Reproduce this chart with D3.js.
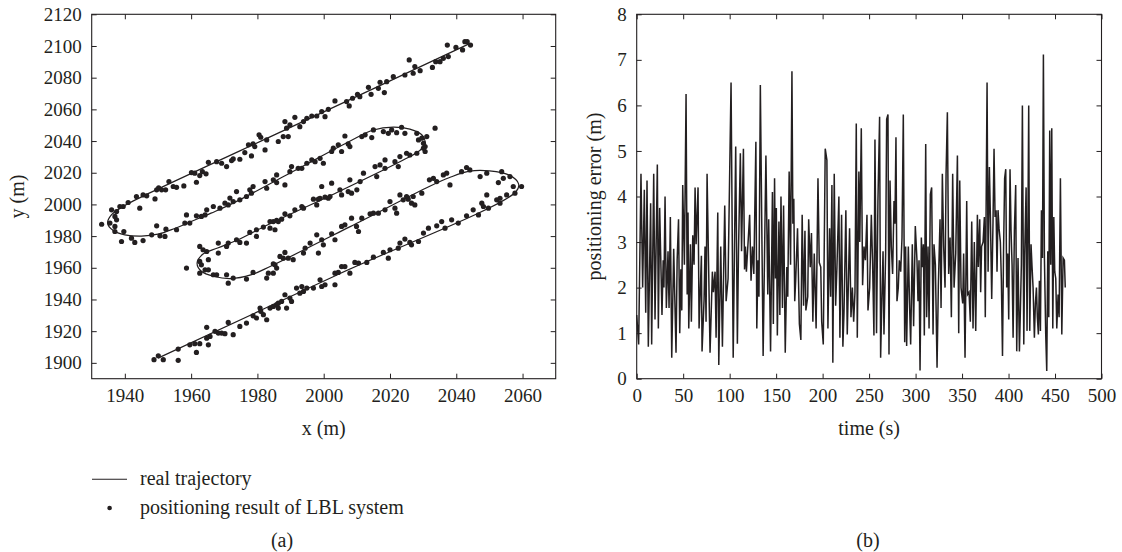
<!DOCTYPE html>
<html>
<head>
<meta charset="utf-8">
<script src="https://cdn.jsdelivr.net/npm/d3@7"></script>
<style>
  html, body { margin: 0; padding: 0; background: #fff; }
  svg { display: block; }
  svg text { font-family: "Liberation Serif", "Times New Roman", serif; }
</style>
</head>
<body>
<svg id="fig" width="1122" height="552"></svg>
<script>
// ---------- panel (a): trajectory ----------
const trackXTicks = [1940, 1960, 1980, 2000, 2020, 2040, 2060];
const trackYTicks = [1900, 1920, 1940, 1960, 1980, 2000, 2020, 2040, 2060, 2080, 2100, 2120];

// real trajectory, in path order (x, y in m)
const realTrack = [
  [1950.0,1903.0],[2004.0,1955.5],[2058.0,2008.0],[2058.8,2013.0],[2056.0,2018.5],[2050.0,2021.2],
  [2044.0,2021.0],[2038.0,2017.0],[2032.0,2011.5],[2008.0,1986.0],[1984.0,1961.0],[1978.0,1955.5],
  [1972.0,1953.2],[1967.0,1954.5],[1963.0,1958.0],[1961.8,1963.0],[1963.5,1968.5],[1968.0,1972.5],
  [1974.0,1977.5],[1983.0,1987.0],[2004.0,2007.5],[2024.0,2028.0],[2029.0,2034.0],[2030.6,2038.5],
  [2029.8,2043.5],[2026.0,2047.5],[2021.0,2048.8],[2015.0,2047.0],[2008.0,2040.0],[1990.0,2020.0],
  [1972.7,2000.8],[1966.0,1994.5],[1960.0,1989.2],[1955.0,1984.8],[1950.0,1981.2],[1945.0,1980.0],
  [1940.0,1980.8],[1936.5,1983.5],[1934.8,1988.0],[1936.0,1993.5],[1940.0,1999.3],[1944.6,2004.3],
  [1995.0,2053.5],[2044.0,2101.5]
];

// positioning results of the LBL system (x, y in m)
const lblFixes = [
  // top leg
  [1933.0,1987.5],[1935.5,1988.2],[1936.0,1996.6],[1937.0,1992.4],[1937.0,1986.1],[1937.5,1995.5],
  [1938.5,1998.7],[1939.5,1998.7],[1941.0,2001.2],[1937.5,1990.3],[1943.5,2005.0],[1944.5,1997.6],
  [1945.5,2006.0],[1946.6,2005.4],[1949.1,2003.5],[1949.6,2009.2],[1950.2,2010.4],[1951.1,2009.2],
  [1952.3,2009.2],[1953.3,2014.4],[1954.6,2011.3],[1955.6,2010.8],[1957.8,2011.7],[1960.1,2020.1],
  [1961.1,2019.7],[1961.6,2014.0],[1962.6,2018.2],[1963.4,2020.7],[1964.5,2019.3],[1965.2,2026.6],
  [1967.7,2027.0],[1969.2,2026.0],[1970.7,2023.9],[1972.2,2027.7],[1972.7,2028.7],[1974.7,2028.5],
  [1976.2,2032.7],[1977.3,2037.6],[1978.2,2030.6],[1978.7,2038.2],[1979.2,2036.5],[1980.5,2043.9],
  [1981.0,2042.4],[1982.3,2034.4],[1982.8,2040.7],[1986.3,2039.7],[1987.8,2042.8],[1988.3,2052.3],
  [1988.8,2048.1],[1989.3,2042.8],[1989.8,2050.2],[1991.3,2055.0],[1992.8,2049.1],[1993.9,2052.3],
  [1994.9,2054.4],[1996.4,2055.8],[1997.9,2055.8],[1999.4,2058.6],[2000.4,2055.4],[2001.4,2060.0],
  [2003.4,2065.3],[2006.9,2064.9],[2007.7,2062.2],[2008.7,2067.0],[2010.2,2069.5],[2010.9,2068.0],
  [2013.5,2073.9],[2014.3,2069.5],[2016.5,2073.3],[2017.0,2077.1],[2018.3,2070.6],[2019.0,2077.5],
  [2021.0,2080.6],[2024.5,2081.7],[2025.8,2091.2],[2027.0,2082.8],[2027.5,2087.0],[2029.1,2084.4],
  [2032.8,2086.5],[2033.8,2090.1],[2035.1,2090.1],[2036.1,2092.2],[2037.3,2100.6],[2037.6,2093.3],
  [2039.9,2099.1],[2041.9,2097.5],[2042.6,2102.7],[2043.3,2102.7],[2044.3,2100.6],
  // second leg
  [1937.0,1982.9],[1939.7,1982.9],[1939.0,1976.6],[1942.0,1978.7],[1943.0,1976.0],[1945.5,1977.2],
  [1948.1,1980.8],[1949.6,1986.5],[1950.6,1980.2],[1952.1,1979.8],[1952.4,1984.4],[1955.6,1984.0],
  [1958.1,1988.2],[1958.6,1993.4],[1959.6,1988.2],[1961.6,1992.8],[1963.1,1992.4],[1964.2,1993.4],
  [1964.7,1996.6],[1966.7,1998.7],[1968.7,1997.6],[1970.2,2000.8],[1971.2,1999.7],[1971.7,2004.0],
  [1972.7,2001.8],[1973.7,2008.1],[1974.7,2002.9],[1976.7,2005.0],[1977.7,2009.2],[1978.2,2007.1],
  [1978.7,2011.3],[1982.3,2014.4],[1982.8,2010.2],[1984.8,2015.5],[1985.8,2018.6],[1985.8,2013.8],
  [1988.3,2012.3],[1989.8,2020.7],[1990.3,2023.9],[1992.3,2022.8],[1993.4,2022.8],[1994.9,2026.0],
  [1996.4,2028.1],[1997.4,2027.0],[1998.9,2029.1],[1999.9,2026.0],[2002.4,2033.4],[2002.9,2035.5],
  [2004.4,2037.6],[2005.4,2033.4],[2006.4,2043.2],[2007.4,2038.2],[2007.9,2036.5],[2011.5,2042.8],
  [2012.5,2043.9],[2014.5,2042.2],[2015.0,2047.0],[2018.0,2046.0],[2019.5,2044.9],[2020.5,2047.0],
  [2022.0,2045.3],[2023.5,2048.7],[2024.5,2044.9],[2028.1,2044.9],[2028.6,2040.7],[2029.6,2041.8],
  [2030.1,2038.6],[2030.6,2036.5],[2031.1,2042.8],[2030.6,2033.4],[2030.1,2035.5],[2033.6,2048.1],
  // third leg
  [2028.1,2032.3],[2026.0,2031.2],[2025.0,2032.3],[2023.0,2030.2],[2022.5,2023.9],[2021.5,2027.0],
  [2018.5,2028.1],[2018.5,2022.8],[2017.0,2024.9],[2015.5,2023.9],[2016.0,2017.6],[2012.0,2019.7],
  [2011.0,2014.4],[2007.9,2015.5],[2007.4,2008.1],[2008.4,2007.1],[2005.4,2006.0],[2002.4,2013.4],
  [1999.4,2011.3],[2001.4,2003.9],[1998.4,2003.3],[2004.9,2009.2],[2010.0,2009.2],[2001.9,2005.0],
  [2000.4,2004.6],[1998.9,2003.9],[1997.9,1999.7],[1996.9,2003.3],[1993.9,1997.6],[1993.4,1998.7],
  [1991.3,1996.6],[1989.8,1992.8],[1988.3,1994.1],[1987.3,1990.7],[1985.8,1989.9],[1984.8,1989.2],
  [1983.8,1989.2],[1986.3,1989.2],[1985.3,1984.0],[1983.8,1985.0],[1981.8,1985.7],[1979.7,1984.0],
  [1979.7,1979.8],[1977.7,1982.3],[1976.7,1975.6],[1974.7,1976.0],[1973.7,1977.7],[1971.2,1975.6],
  [1970.7,1973.5],[1968.2,1975.6],[1968.2,1969.3],[1965.2,1965.1],[1964.7,1970.3],[1963.6,1971.4],
  [1962.6,1973.5],[1962.6,1964.0],[1963.1,1961.9],[1958.6,1959.8],
  // fourth leg
  [1962.6,1956.6],[1964.2,1958.7],[1965.2,1958.7],[1966.7,1955.6],[1967.7,1955.6],[1970.7,1955.6],
  [1971.2,1950.3],[1972.7,1953.5],[1976.7,1952.9],[1978.7,1957.1],[1982.8,1953.5],[1983.3,1956.6],
  [1984.8,1962.5],[1984.8,1956.6],[1985.8,1959.8],[1985.3,1961.9],[1986.8,1967.2],[1987.8,1966.1],
  [1988.3,1969.7],[1989.3,1966.1],[1990.8,1965.1],[1993.9,1969.3],[1994.4,1972.4],[1995.9,1975.6],
  [1997.9,1980.8],[1998.4,1969.3],[1999.4,1977.7],[1999.9,1974.5],[2002.4,1981.5],[2003.4,1977.7],
  [2005.4,1986.1],[2006.4,1987.1],[2008.4,1991.3],[2009.9,1986.1],[2010.5,1982.9],[2011.5,1991.3],
  [2014.0,1994.1],[2015.0,1994.5],[2016.5,1994.5],[2018.5,1996.6],[2020.0,2001.8],[2021.5,1997.6],
  [2022.0,1994.5],[2023.0,2006.0],[2024.0,2002.9],[2025.5,2003.3],[2026.5,2000.8],[2027.0,2005.0],
  [2027.5,1999.7],[2029.6,2007.1],[2025.0,2005.0],[2031.9,2015.5],[2033.1,2016.5],[2034.1,2014.4],
  [2036.1,2018.6],[2037.1,2019.7],[2038.1,2012.3],[2041.6,2020.7],[2043.1,2023.3],[2044.1,2021.8],
  [2047.2,2017.6],[2049.2,2019.7],[2052.7,2013.8],[2053.7,2020.7],[2054.2,2016.5],[2056.2,2017.6],
  [2057.2,2011.3],[2059.7,2011.3],[2049.2,2006.0],[2053.2,2003.9],
  // bottom leg
  [1948.8,1902.0],[1950.1,1904.5],[1951.6,1902.0],[1956.1,1908.7],[1956.1,1901.6],[1959.6,1911.4],
  [1961.1,1912.1],[1961.6,1906.6],[1962.6,1912.1],[1964.7,1922.4],[1964.7,1915.6],[1965.2,1911.4],
  [1965.7,1916.7],[1967.2,1919.9],[1968.2,1918.8],[1969.2,1918.8],[1970.2,1918.4],[1971.2,1925.5],
  [1972.7,1917.8],[1974.7,1923.0],[1976.7,1925.1],[1978.7,1929.7],[1979.7,1928.3],[1980.8,1934.6],
  [1981.0,1932.5],[1981.8,1930.4],[1982.8,1927.2],[1983.8,1934.6],[1985.8,1936.7],[1986.3,1937.7],
  [1984.8,1935.6],[1986.3,1934.6],[1987.3,1938.8],[1988.3,1943.0],[1988.8,1934.6],[1989.8,1940.9],
  [1990.3,1938.8],[1991.8,1947.2],[1992.8,1944.0],[1993.4,1948.2],[1993.9,1945.1],[1994.9,1947.2],
  [1996.9,1947.2],[1998.9,1952.4],[1999.4,1948.2],[2000.4,1949.3],[2003.4,1949.3],[2003.4,1956.6],
  [2004.4,1957.1],[2005.4,1960.8],[2006.4,1960.8],[2007.9,1956.6],[2009.4,1963.4],[2010.5,1963.0],
  [2013.0,1963.4],[2015.0,1966.7],[2018.0,1969.7],[2019.5,1966.1],[2020.0,1971.4],[2022.5,1972.4],
  [2023.0,1975.6],[2024.5,1978.1],[2026.0,1976.0],[2026.5,1974.5],[2028.6,1976.6],[2030.1,1981.9],
  [2031.6,1985.0],[2034.1,1986.5],[2035.6,1989.2],[2036.6,1985.0],[2038.6,1990.3],[2040.6,1988.2],
  [2043.1,1992.8],[2045.1,1996.6],[2046.7,1993.4],[2047.7,2000.8],[2048.2,1998.7],[2049.7,1997.6],
  [2052.2,2002.9],[2053.2,2000.8],[2055.2,2006.0],[2057.7,2007.1]
];

// ---------- panel (b): positioning error ----------
const timeTicks = [0, 50, 100, 150, 200, 250, 300, 350, 400, 450, 500];
const errorTicks = [0, 1, 2, 3, 4, 5, 6, 7, 8];

// (time s, error m)
const errorSeries = [
  [0,1.4],[2.1,0.75],[4.6,4.5],[6.4,2.0],[8.2,4.15],[9.7,1.45],[11.1,4.35],[12.5,0.7],[15.0,3.85],[16.1,0.75],
  [18.3,4.5],[19.7,1.3],[22.2,4.7],[23.3,1.1],[24.7,3.75],[27.2,1.4],[28.5,2.6],[29.3,2.0],[30.5,4.0],[31.9,1.55],
  [33.7,2.8],[34.8,1.55],[36.2,3.55],[37.7,0.46],[39.8,2.85],[42.3,0.57],[43.5,2.6],[45.0,3.5],[46.3,1.0],[47.5,2.4],
  [48.5,1.5],[49.5,4.25],[51.3,2.5],[53.1,6.25],[54.3,1.85],[55.2,3.65],[56.0,1.1],[57.8,2.95],[58.8,1.25],[60.3,3.15],
  [61.7,2.5],[62.8,4.2],[63.9,2.95],[66.0,4.2],[67.1,1.1],[69.6,2.7],[70.3,0.6],[72.5,1.75],[73.5,2.9],[74.6,1.25],
  [75.7,4.5],[78.9,0.57],[81.4,2.35],[82.5,1.9],[84.3,2.35],[85.4,0.9],[87.2,3.65],[88.3,0.3],[90.4,2.9],[92.2,0.7],
  [94.7,3.8],[96.2,1.7],[98.3,2.2],[101.5,6.5],[103.8,0.46],[106.5,5.1],[108.3,0.77],[109.5,2.8],[111.5,4.95],[112.8,2.8],
  [114.8,5.05],[116.0,2.4],[117.0,2.9],[118.0,2.35],[121.5,3.6],[123.0,2.15],[124.5,2.9],[126.0,2.3],[128.2,5.2],[129.2,1.1],
  [130.5,2.6],[131.5,1.8],[133.0,6.45],[136.0,0.5],[139.0,4.9],[141.0,1.85],[142.0,3.5],[144.0,0.6],[146.0,4.1],[147.0,1.2],
  [148.3,4.4],[149.3,2.2],[150.2,3.75],[151.3,0.95],[153.0,3.45],[154.0,1.4],[155.2,4.0],[156.8,1.55],[158.0,3.8],[159.8,0.57],
  [161.5,2.45],[162.5,1.8],[164.0,4.55],[165.5,2.5],[167.0,6.75],[168.0,3.4],[169.0,3.95],[170.0,1.7],[171.0,2.15],[173.0,3.3],
  [175.0,1.2],[176.6,0.85],[178.0,3.6],[179.5,1.6],[181.0,3.25],[182.0,1.5],[184.0,1.8],[185.0,3.5],[186.7,2.45],[188.0,3.2],
  [189.5,1.25],[191.0,2.75],[193.0,1.1],[195.0,4.4],[196.4,2.55],[198.0,2.45],[199.0,1.25],[200.7,0.75],[202.8,5.05],[204.6,4.8],
  [205.7,1.1],[207.5,3.3],[208.6,1.8],[210.0,4.25],[211.0,0.35],[212.5,4.5],[214.0,1.6],[215.4,2.45],[217.5,4.0],[218.6,0.9],
  [220.4,3.6],[221.8,0.7],[223.0,1.45],[225.0,3.7],[226.5,0.97],[229.0,3.3],[230.5,1.35],[232.0,2.0],[233.4,1.25],[234.8,1.9],
  [236.2,5.6],[237.3,0.9],[239.0,4.55],[240.0,3.0],[241.6,5.5],[243.0,2.05],[244.5,2.9],[246.0,2.6],[247.7,3.6],[248.8,1.5],
  [250.6,2.0],[252.4,3.6],[253.8,2.5],[255.2,0.95],[256.3,5.25],[258.0,1.0],[259.5,3.9],[261.3,5.75],[262.4,0.46],[263.8,1.8],
  [265.0,2.8],[266.0,0.97],[267.8,2.75],[268.9,5.7],[270.3,5.8],[271.4,0.53],[272.5,4.35],[273.9,2.9],[275.3,2.3],[276.8,3.9],
  [277.8,3.4],[278.9,5.3],[280.0,1.7],[281.4,2.0],[282.5,2.6],[284.0,2.35],[285.4,3.1],[286.8,5.8],[288.3,0.8],[289.3,2.9],
  [290.4,0.72],[292.2,2.9],[293.6,1.55],[294.7,0.75],[296.5,2.95],[297.9,1.15],[299.7,3.35],[301.5,2.6],[302.6,1.7],[303.7,2.6],
  [304.8,0.18],[306.2,3.1],[307.3,2.45],[308.4,2.95],[309.4,0.95],[310.9,5.15],[311.9,1.35],[313.4,2.9],[314.5,1.1],[315.9,4.05],
  [317.3,4.2],[318.8,0.97],[319.8,2.95],[321.3,2.5],[323.1,0.24],[324.5,2.05],[326.3,3.5],[327.4,1.55],[328.8,4.5],[330.2,2.9],
  [331.7,2.0],[332.8,4.5],[334.2,5.85],[335.6,2.3],[337.1,3.1],[338.5,1.35],[339.9,4.5],[341.4,2.0],[343.2,2.75],[345.0,4.9],
  [346.4,1.0],[347.5,4.35],[348.9,2.0],[350.7,1.65],[351.7,2.75],[353.2,0.46],[355.0,3.9],[356.0,1.85],[357.5,1.9],[358.9,1.25],
  [360.4,3.45],[361.8,1.1],[363.2,3.0],[364.7,1.05],[366.5,3.6],[367.5,2.45],[369.0,3.5],[370.0,1.9],[371.0,2.9],[372.6,3.0],
  [374.0,3.55],[375.0,1.35],[376.9,6.5],[378.0,2.35],[379.4,4.65],[380.5,3.55],[381.9,1.75],[383.3,3.45],[384.4,5.05],[385.5,3.55],
  [386.6,3.7],[387.6,2.35],[388.7,3.7],[389.8,3.3],[391.2,3.0],[392.3,2.15],[393.5,0.5],[394.6,2.75],[395.8,4.4],[397.0,4.6],
  [398.0,2.0],[399.1,2.75],[400.2,1.3],[401.6,4.6],[402.7,3.25],[403.8,2.5],[404.9,0.9],[406.3,3.25],[407.7,4.25],[408.8,0.6],
  [410.2,2.65],[411.7,0.6],[412.8,1.55],[413.8,2.5],[414.9,6.0],[416.4,0.75],[417.4,2.75],[418.9,4.2],[419.9,1.05],[420.7,2.9],
  [421.7,6.0],[422.8,1.05],[424.2,2.95],[425.3,2.45],[426.4,2.0],[427.8,0.9],[428.9,1.65],[430.0,2.0],[431.0,1.35],[432.1,0.97],
  [433.2,2.15],[434.3,1.05],[435.4,3.7],[436.5,2.65],[437.5,7.12],[438.6,2.65],[440.0,0.97],[441.1,0.17],[442.2,2.8],[443.3,1.35],
  [444.3,5.45],[445.4,2.5],[446.5,5.5],[447.6,1.1],[448.7,3.55],[449.7,2.35],[450.8,2.2],[451.9,1.1],[453.3,1.85],[454.4,1.35],
  [455.8,4.4],[457.3,0.97],[458.7,2.65],[460.1,2.6],[461.0,2.0]
];

const INK = '#231f20';
const FONT = '"Liberation Serif", "Times New Roman", serif';
const svg = d3.select('#fig');

// plot boxes
const boxA = { left: 91.7, right: 555.7, top: 14.3, bottom: 378.7 };
const boxB = { left: 636.7, right: 1101.5, top: 14.3, bottom: 378.7 };

const xA = d3.scaleLinear().domain([1930, 2070]).range([boxA.left, boxA.right]);
const yA = d3.scaleLinear().domain([1890, 2120]).range([boxA.bottom, boxA.top]);
const xB = d3.scaleLinear().domain([0, 500]).range([boxB.left, boxB.right]);
const yB = d3.scaleLinear().domain([0, 8]).range([boxB.bottom, boxB.top]);

// boxed axes with inward ticks on all four sides
function drawFrame(box, x, y, xTicks, yTicks) {
  const g = svg.append('g');
  const plain = d3.format('d');
  const sides = [
    { ax: d3.axisBottom(x).tickValues(xTicks).tickFormat(plain), t: `translate(0,${box.bottom})` },
    { ax: d3.axisLeft(y).tickValues(yTicks).tickFormat(plain), t: `translate(${box.left},0)` },
    { ax: d3.axisTop(x).tickValues(xTicks).tickFormat(''), t: `translate(0,${box.top})` },
    { ax: d3.axisRight(y).tickValues(yTicks).tickFormat(''), t: `translate(${box.right},0)` }
  ];
  sides.forEach(s => {
    const a = g.append('g')
      .attr('transform', s.t)
      .call(s.ax.tickSizeInner(-5).tickSizeOuter(0).tickPadding(10));
    a.select('.domain').remove();
    a.selectAll('line').attr('stroke', INK).attr('stroke-width', 1);
    a.selectAll('text')
      .attr('fill', INK)
      .style('font-family', FONT)
      .style('font-size', '19px');
  });
  g.append('rect')
    .attr('x', box.left).attr('y', box.top)
    .attr('width', box.right - box.left).attr('height', box.bottom - box.top)
    .attr('fill', 'none').attr('stroke', INK).attr('stroke-width', 1.1);
}

function label(x, y, txt, rotate) {
  svg.append('text')
    .attr('transform', rotate ? `translate(${x},${y}) rotate(-90)` : `translate(${x},${y})`)
    .attr('text-anchor', 'middle')
    .attr('fill', INK)
    .style('font-family', FONT)
    .style('font-size', '20px')
    .text(txt);
}

// ----- panel (a) -----
const trackLine = d3.line()
  .x(d => xA(d[0]))
  .y(d => yA(d[1]))
  .curve(d3.curveCatmullRom.alpha(0.5));

svg.append('path')
  .datum(realTrack)
  .attr('d', trackLine)
  .attr('fill', 'none')
  .attr('stroke', INK)
  .attr('stroke-width', 1.2);

svg.append('g')
  .selectAll('circle')
  .data(lblFixes)
  .enter()
  .append('circle')
  .attr('cx', d => xA(d[0]))
  .attr('cy', d => yA(d[1]))
  .attr('r', 2.6)
  .attr('fill', INK);

drawFrame(boxA, xA, yA, trackXTicks, trackYTicks);
label((boxA.left + boxA.right) / 2, 435, 'x (m)');
label(24, (boxA.top + boxA.bottom) / 2, 'y (m)', true);

// legend
svg.append('line')
  .attr('x1', 92).attr('x2', 127).attr('y1', 479.3).attr('y2', 479.3)
  .attr('stroke', INK).attr('stroke-width', 1.1);
svg.append('text').attr('x', 140).attr('y', 485).attr('fill', INK)
  .style('font-family', FONT).style('font-size', '20px').text('real trajectory');
svg.append('circle').attr('cx', 109.6).attr('cy', 508).attr('r', 2.3).attr('fill', INK);
svg.append('text').attr('x', 140).attr('y', 514).attr('fill', INK)
  .style('font-family', FONT).style('font-size', '20px').text('positioning result of LBL system');
label(282, 547, '(a)');

// ----- panel (b) -----
const errLine = d3.line()
  .x(d => xB(d[0]))
  .y(d => yB(d[1]));

svg.append('path')
  .datum(errorSeries)
  .attr('d', errLine)
  .attr('fill', 'none')
  .attr('stroke', INK)
  .attr('stroke-width', 1.5)
  .attr('stroke-linejoin', 'miter');

drawFrame(boxB, xB, yB, timeTicks, errorTicks);
label((boxB.left + boxB.right) / 2, 435, 'time (s)');
label(601, (boxB.top + boxB.bottom) / 2, 'positioning error (m)', true);
label(868, 547, '(b)');
</script>
</body>
</html>
